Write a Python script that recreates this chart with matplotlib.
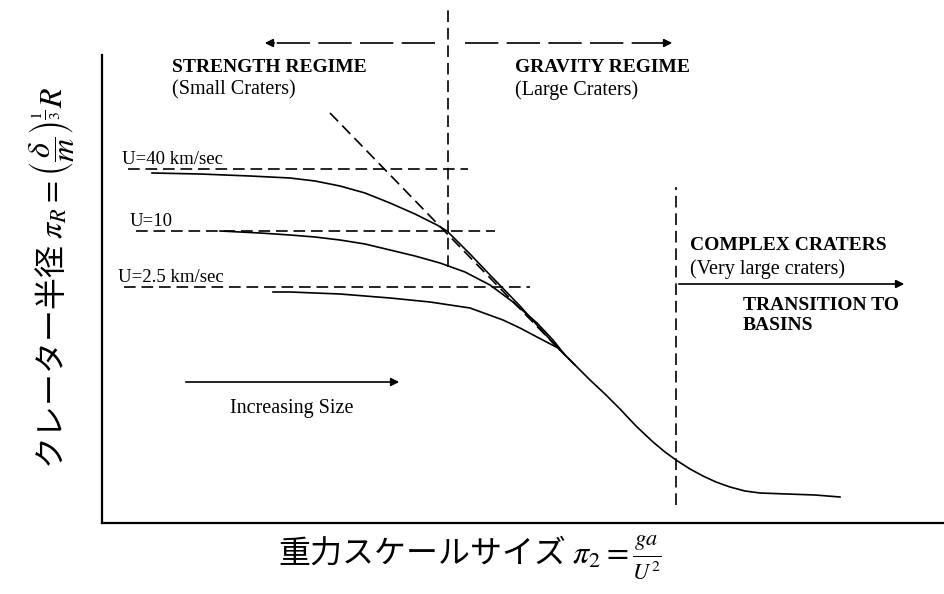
import numpy as np
import matplotlib.pyplot as plt

plt.rcParams['font.family'] = ['Noto Sans CJK JP', 'DejaVu Sans']
plt.rcParams['mathtext.fontset'] = 'stix'

# coordinates: x to the right of the y-axis, y above the x-axis (arbitrary units)
u40_x = np.array([50, 98, 148, 188, 213, 238, 263, 288, 313, 335, 345, 368, 388, 418, 443, 458])
u40_y = np.array([350, 349, 347, 345, 342, 337, 330, 320, 309, 298, 292, 269, 248, 217, 189, 173])
u10_x = np.array([118, 158, 188, 213, 238, 263, 288, 313, 338, 363, 388, 411, 435, 451, 463])
u10_y = np.array([292, 290, 288, 286, 283, 279, 273, 267, 260, 251, 238, 221, 200, 183, 168])
u25_x = np.array([171, 188, 238, 288, 328, 368, 401, 418, 435, 456, 473])
u25_y = np.array([231, 231, 229, 225, 221, 215, 203, 195, 186, 175, 158])
env_x = np.array([458, 473, 488, 503, 518, 534, 551, 563, 574, 588, 601, 614, 628, 643, 658, 685, 713, 738])
env_y = np.array([173, 158, 143, 129, 114, 97, 81, 71, 63, 54, 47, 41, 36, 32, 30, 29, 28, 26])

tangent_x = [228, 455]
tangent_y = [410, 176]

u_labels = ['U=40 km/sec', 'U=10', 'U=2.5 km/sec']
u_level = [354, 292, 236]
u_start = [20, 28, 16]
u_end = [366, 393, 428]

v_lines = [(346, 256, 516), (574, 18, 336)]

fig = plt.figure(figsize=(9.45, 5.94), dpi=100)
ax = fig.add_axes([102 / 945, 71 / 594, 843 / 945, 523 / 594])
ax.set_xlim(0, 843)
ax.set_ylim(0, 523)
ax.patch.set_alpha(0)
for s in ['top', 'right']:
    ax.spines[s].set_visible(False)
ax.spines['left'].set_bounds(0, 468)
ax.spines['left'].set_linewidth(1.6)
ax.spines['bottom'].set_linewidth(1.6)
ax.set_xticks([])
ax.set_yticks([])

dash = (0, (7, 3.5))
lw = 1.2
for x, y in [(u40_x, u40_y), (u10_x, u10_y), (u25_x, u25_y), (env_x, env_y)]:
    ax.plot(x, y, color='black', lw=lw)
ax.plot(tangent_x, tangent_y, color='black', lw=lw, ls=dash)

serif = 'Liberation Serif'
for lab, y, x0, x1 in zip(u_labels, u_level, u_start, u_end):
    ax.plot([x0 + 6, x1], [y, y], color='black', lw=lw, ls=dash)
    ax.text(x0, y + 1, lab, family=serif, fontsize=13.5, ha='left', va='bottom')

for x, y0, y1 in v_lines:
    ax.plot([x, x], [y0, y1], color='black', lw=lw, ls=dash)

# regime arrows at the top
long_dash = (0, (20, 5))
ax.plot([333, 172], [480, 480], color='black', lw=lw, ls=long_dash)
ax.annotate('', xy=(160, 480), xytext=(175, 480),
            arrowprops=dict(arrowstyle='-|>', color='black', lw=lw, mutation_scale=12))
ax.plot([363, 561], [480, 480], color='black', lw=lw, ls=long_dash)
ax.annotate('', xy=(573, 480), xytext=(558, 480),
            arrowprops=dict(arrowstyle='-|>', color='black', lw=lw, mutation_scale=12))

ax.annotate('', xy=(805, 239), xytext=(574, 239),
            arrowprops=dict(arrowstyle='-|>', color='black', lw=lw, mutation_scale=12))
ax.annotate('', xy=(300, 141), xytext=(81, 141),
            arrowprops=dict(arrowstyle='-|>', color='black', lw=lw, mutation_scale=12))

head = dict(family=serif, fontsize=14, ha='left', va='center', fontweight='bold')
sub = dict(family=serif, fontsize=14.5, ha='left', va='center')
ax.text(70, 455, 'STRENGTH REGIME', **head)
ax.text(70, 433, '(Small Craters)', **sub)
ax.text(413, 455, 'GRAVITY REGIME', **head)
ax.text(413, 433, '(Large Craters)', **sub)
ax.text(588, 277, 'COMPLEX CRATERS', **head)
ax.text(588, 254, '(Very large craters)', **sub)
ax.text(641, 218, 'TRANSITION TO', **head)
ax.text(641, 197, 'BASINS', **head)
ax.text(190, 114, 'Increasing Size', family=serif, fontsize=14.5, ha='center', va='center')

fig.text(470 / 945, 1 - 557 / 594, r'重力スケールサイズ $\pi_2 = \frac{ga}{U^2}$',
         fontsize=23, ha='center', va='center')
fig.text(52 / 945, 1 - 278 / 594,
         r'クレーター半径 $\pi_R = \left(\dfrac{\delta}{m}\right)^{\frac{1}{3}} R$',
         fontsize=23, ha='center', va='center', rotation=90)

fig.savefig('out.png', dpi=100)
